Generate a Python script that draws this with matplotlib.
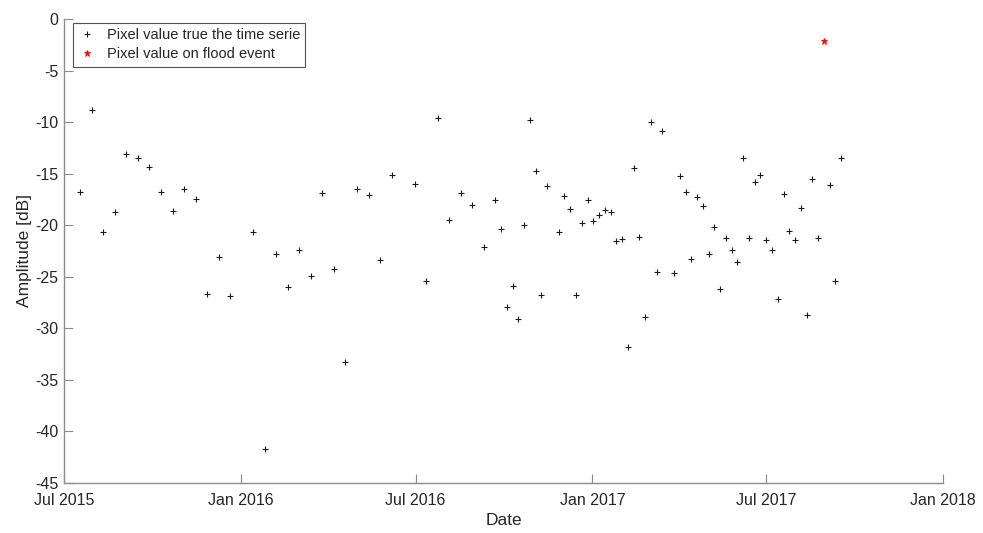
import numpy as np
import pandas as pd
import matplotlib
matplotlib.use("Agg")
import matplotlib.pyplot as plt
import matplotlib.dates as mdates

# ── DATA ──────────────────────────────────────────────────────────────────────
DATES = [
    "2015-07-18", "2015-07-30", "2015-08-11", "2015-08-23", "2015-09-04",
    "2015-09-16", "2015-09-28", "2015-10-10", "2015-10-22", "2015-11-03",
    "2015-11-15", "2015-11-27", "2015-12-09", "2015-12-21", "2016-01-14",
    "2016-01-26", "2016-02-07", "2016-02-19", "2016-03-02", "2016-03-14",
    "2016-03-26", "2016-04-07", "2016-04-19", "2016-05-01", "2016-05-13",
    "2016-05-25", "2016-06-06", "2016-06-30", "2016-07-12", "2016-07-24",
    "2016-08-05", "2016-08-17", "2016-08-29", "2016-09-10", "2016-09-22",
    "2016-09-28", "2016-10-04", "2016-10-10", "2016-10-16", "2016-10-22",
    "2016-10-28", "2016-11-03", "2016-11-09", "2016-11-15", "2016-11-27",
    "2016-12-03", "2016-12-09", "2016-12-15", "2016-12-21", "2016-12-27",
    "2017-01-02", "2017-01-08", "2017-01-14", "2017-01-20", "2017-01-26",
    "2017-02-01", "2017-02-07", "2017-02-13", "2017-02-19", "2017-02-25",
    "2017-03-03", "2017-03-09", "2017-03-15", "2017-03-27", "2017-04-02",
    "2017-04-08", "2017-04-14", "2017-04-20", "2017-04-26", "2017-05-02",
    "2017-05-08", "2017-05-14", "2017-05-20", "2017-05-26", "2017-06-01",
    "2017-06-07", "2017-06-13", "2017-06-19", "2017-06-25", "2017-07-01",
    "2017-07-07", "2017-07-13", "2017-07-19", "2017-07-25", "2017-07-31",
    "2017-08-06", "2017-08-12", "2017-08-18", "2017-08-24", "2017-09-05",
    "2017-09-11", "2017-09-17",
]
AMPLITUDE_DB = [
    -16.75, -8.83, -20.66, -18.75, -13.09,
    -13.51, -14.32, -16.75, -18.65, -16.49,
    -17.49, -26.67, -23.08, -26.86, -20.66,
    -41.67, -22.82, -26.02, -22.43, -24.90,
    -16.90, -24.22, -33.29, -16.46, -17.04,
    -23.34, -15.16, -16.03, -25.44, -9.57,
    -19.49, -16.90, -18.01, -22.08, -17.58,
    -20.37, -27.96, -25.92, -29.10, -19.98,
    -9.80, -14.77, -26.74, -16.23, -20.69,
    -17.17, -18.45, -26.74, -19.80, -17.58,
    -19.61, -18.98, -18.52, -18.72, -21.50,
    -21.34, -31.84, -14.45, -21.11, -28.93,
    -10.02, -24.57, -10.89, -24.66, -15.20,
    -16.75, -23.31, -17.29, -18.14, -22.79,
    -20.14, -26.19, -21.24, -22.43, -23.54,
    -13.51, -21.24, -15.84, -15.16, -21.46,
    -22.37, -27.16, -17.00, -20.53, -21.46,
    -18.30, -28.74, -15.49, -21.27, -16.13,
    -25.44, -13.48,
]

FLOOD_DATE = "2017-08-30"
FLOOD_DB = -2.16

X_TICKS = ["2015-07-01", "2016-01-01", "2016-07-01", "2017-01-01", "2017-07-01", "2018-01-01"]
Y_TICKS = list(range(-45, 1, 5))

TEXT_COLOR = "#262626"
AXIS_COLOR = "#8c8c8c"

# ── PLOT ──────────────────────────────────────────────────────────────────────
plt.rcParams["font.family"] = ["Liberation Sans", "DejaVu Sans"]
plt.rcParams["axes.unicode_minus"] = False

dates = pd.to_datetime(DATES)
xticks = pd.to_datetime(X_TICKS)

fig = plt.figure(figsize=(9.83, 5.33), dpi=100)
ax = fig.add_axes([0.0651, 0.0938, 0.8942, 0.8706])

ax.plot(dates, AMPLITUDE_DB, linestyle="none", marker="+", markersize=5,
        markeredgewidth=0.8, color="#1a1a1a", label="Pixel value true the time serie")
ax.plot(pd.to_datetime([FLOOD_DATE]), [FLOOD_DB], linestyle="none", marker="*",
        markersize=5, markeredgewidth=0.6, color="#ff0000",
        label="Pixel value on flood event")

ax.set_xlim(xticks[0], xticks[-1])
ax.set_ylim(-45, 0)
ax.set_xticks(xticks)
ax.xaxis.set_major_formatter(mdates.DateFormatter("%b %Y"))
ax.set_yticks(Y_TICKS)

for side in ("top", "right"):
    ax.spines[side].set_visible(False)
for side in ("left", "bottom"):
    ax.spines[side].set_color(AXIS_COLOR)
    ax.spines[side].set_linewidth(1.0)

ax.tick_params(direction="in", length=6.5, width=0.8, color=AXIS_COLOR,
               labelcolor=TEXT_COLOR, labelsize=11.5)
ax.tick_params(axis="x", pad=7)
ax.tick_params(axis="y", pad=4)

ax.set_xlabel("Date", fontsize=12.5, color=TEXT_COLOR, labelpad=4)
ax.set_ylabel("Amplitude [dB]", fontsize=12.5, color=TEXT_COLOR, labelpad=2)

leg = ax.legend(loc="upper left", bbox_to_anchor=(0.0099, 0.9907), borderaxespad=0,
                fontsize=10.5, frameon=True, fancybox=False, handlelength=1.2,
                handletextpad=0.8, borderpad=0.35, labelspacing=0.35)
leg.get_frame().set_edgecolor(TEXT_COLOR)
leg.get_frame().set_linewidth(0.8)
for t in leg.get_texts():
    t.set_color(TEXT_COLOR)

fig.savefig("out.png", dpi=100)
